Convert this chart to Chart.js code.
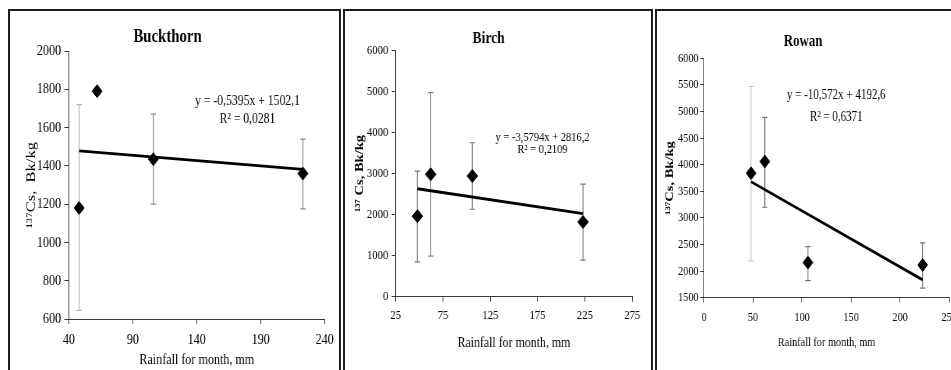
<!DOCTYPE html>
<html>
<head>
<meta charset="utf-8">
<script src="https://cdn.jsdelivr.net/npm/chart.js@4.4.1/dist/chart.umd.min.js"></script>
<style>
html, body { margin: 0; padding: 0; background: #fff; width: 951px; height: 370px; overflow: hidden; }
.panel { position: absolute; top: 9px; height: 400px; border: 2px solid #1e1e1e; background: #fff; overflow: hidden; }
.wrap { position: absolute; left: 0; top: 0; transform-origin: 0 0; }
</style>
</head>
<body>
<div class="panel" style="left:8px;width:329px"><div class="wrap" id="w1"><canvas id="c1"></canvas></div></div>
<div class="panel" style="left:343px;width:306px"><div class="wrap" id="w2"><canvas id="c2"></canvas></div></div>
<div class="panel" style="left:655px;width:340px"><div class="wrap" id="w3"><canvas id="c3"></canvas></div></div>
<script>
// rainfall for month, mm (same four sampling months in all panels)
const rainfall = [48, 62, 106, 223];
const trendX = [48, 223];

// Buckthorn
const buckthornCs = [1180, 1790, 1435, 1360];
const buckthornLow = [645, null, 1200, 1175];
const buckthornHigh = [1720, null, 1670, 1540];
const buckthornTrend = [1478, 1382];
const buckthornXTicks = [40, 90, 140, 190, 240];
const buckthornYTicks = [600, 800, 1000, 1200, 1400, 1600, 1800, 2000];
const buckthornEq = ['y = -0,5395x + 1502,1', 'R² = 0,0281'];

// Birch
const birchCs = [1960, 2980, 2940, 1820];
const birchLow = [850, 990, 2130, 890];
const birchHigh = [3060, 4970, 3750, 2740];
const birchTrend = [2630, 2025];
const birchXTicks = [25, 75, 125, 175, 225, 275];
const birchYTicks = [0, 1000, 2000, 3000, 4000, 5000, 6000];
const birchEq = ['y = -3,5794x + 2816,2', 'R² = 0,2109'];

// Rowan
const rowanCs = [3840, 4060, 2160, 2115];
const rowanLow = [2190, 3200, 1820, 1680];
const rowanHigh = [5470, 4890, 2460, 2530];
const rowanTrend = [3680, 1835];
const rowanXTicks = [0, 50, 100, 150, 200, 250];
const rowanYTicks = [1500, 2000, 2500, 3000, 3500, 4000, 4500, 5000, 5500, 6000];
const rowanEq = ['y = -10,572x + 4192,6', 'R² = 0,6371'];

Chart.defaults.font.family = '"Liberation Serif", "Times New Roman", serif';
Chart.defaults.color = '#000';

// error bars drawn under the markers
const errorBars = {
    id: 'errorBars',
    beforeDatasetsDraw(chart, args, opts) {
        const { ctx, scales: { x, y } } = chart;
        ctx.save();
        ctx.lineWidth = 1.2;
        opts.low.forEach((lo, i) => {
            const hi = opts.high[i];
            if (lo == null || hi == null) return;
            const px = x.getPixelForValue(rainfall[i]);
            const y1 = y.getPixelForValue(lo);
            const y2 = y.getPixelForValue(hi);
            ctx.strokeStyle = opts.colors[i];
            ctx.beginPath();
            ctx.moveTo(px, y1); ctx.lineTo(px, y2);
            ctx.moveTo(px - opts.cap, y1); ctx.lineTo(px + opts.cap, y1);
            ctx.moveTo(px - opts.cap, y2); ctx.lineTo(px + opts.cap, y2);
            ctx.stroke();
        });
        ctx.restore();
    }
};

// trendline equation text
const eqText = {
    id: 'eqText',
    afterDraw(chart, args, opts) {
        const ctx = chart.ctx;
        ctx.save();
        ctx.font = opts.size + 'px "Liberation Serif"';
        ctx.fillStyle = '#000';
        ctx.textAlign = 'center';
        ctx.textBaseline = 'middle';
        opts.lines.forEach((t, i) => ctx.fillText(t, opts.x, opts.y[i]));
        ctx.restore();
    }
};

function makePanel(id, p) {
    const canvas = document.getElementById('c' + id);
    canvas.width = p.W;
    canvas.height = p.H;
    document.getElementById('w' + id).style.transform = 'scaleX(' + p.f + ')';

    const axisColor = '#3a3a3a';
    const fixTicks = arr => scale => { scale.ticks = arr.map(v => ({ value: v })); };

    new Chart(canvas, {
        type: 'scatter',
        data: {
            datasets: [{
                data: rainfall.map((x, i) => ({ x: x, y: p.cs[i] })),
                pointStyle: 'rectRot',
                pointRadius: 6.5,
                backgroundColor: '#000',
                borderColor: '#000',
                borderWidth: 1
            }, {
                type: 'line',
                data: trendX.map((x, i) => ({ x: x, y: p.trend[i] })),
                borderColor: '#000',
                borderWidth: 2.8,
                pointRadius: 0,
                fill: false
            }]
        },
        options: {
            responsive: false,
            animation: false,
            layout: { padding: { left: 0, top: 0, right: p.padRight, bottom: 0 } },
            plugins: {
                legend: { display: false },
                tooltip: { enabled: false },
                title: {
                    display: true,
                    text: p.title,
                    color: '#000',
                    font: { size: p.titleSize, weight: 'bold' },
                    padding: { top: p.titlePadTop, bottom: p.titlePadBottom }
                },
                errorBars: { low: p.low, high: p.high, colors: p.errColors, cap: 3.4 },
                eqText: { lines: p.eq, x: p.eqX, y: p.eqY, size: p.eqSize }
            },
            scales: {
                x: {
                    type: 'linear',
                    min: p.xTicks[0],
                    max: p.xTicks[p.xTicks.length - 1],
                    afterBuildTicks: fixTicks(p.xTicks),
                    afterFit: s => { s.height = p.xHeight; },
                    grid: { drawOnChartArea: false, tickLength: 5, color: axisColor },
                    border: { color: axisColor, width: 1 },
                    ticks: { font: { size: p.tickSize }, padding: p.xTickPad, maxRotation: 0, autoSkip: false, callback: v => String(v) },
                    title: { display: true, text: 'Rainfall for month, mm', font: { size: p.xTitleSize }, padding: { top: 0, bottom: p.xTitlePad } }
                },
                y: {
                    type: 'linear',
                    min: p.yTicks[0],
                    max: p.yTicks[p.yTicks.length - 1],
                    afterBuildTicks: fixTicks(p.yTicks),
                    afterFit: s => { s.width = p.yWidth; },
                    grid: { drawOnChartArea: false, tickLength: p.yTickLen, color: axisColor },
                    border: { color: axisColor, width: 1 },
                    ticks: { font: { size: p.tickSize }, padding: p.yTickPad, autoSkip: false, callback: v => String(v) },
                    title: { display: true, text: p.yTitle, font: { size: p.yTitleSize, weight: p.yTitleWeight }, padding: { top: p.yTitlePad, bottom: 0 } }
                }
            }
        },
        plugins: [errorBars, eqText]
    });
}

document.addEventListener('DOMContentLoaded', function () {
    makePanel(1, {
        W: 422, H: 358, f: 0.78, padRight: 18, yWidth: 75.6, xHeight: 50,
        title: 'Buckthorn', titleSize: 19, titlePadTop: 14.6, titlePadBottom: 2.6,
        cs: buckthornCs, low: buckthornLow, high: buckthornHigh, trend: buckthornTrend,
        errColors: ['#b4b4b4', '#808080', '#8a8a8a', '#8a8a8a'],
        xTicks: buckthornXTicks, yTicks: buckthornYTicks,
        tickSize: 15.5, xTickPad: 7, yTickPad: 4, yTickLen: 6,
        xTitleSize: 15.5, xTitlePad: 0,
        yTitle: '¹³⁷Cs,  Bk/kg', yTitleSize: 16.5, yTitleWeight: 'normal', yTitlePad: 18,
        eq: buckthornEq, eqX: 304.5, eqY: [89.7, 108], eqSize: 15
    });
    makePanel(2, {
        W: 373, H: 359, f: 0.82, padRight: 22.8, yWidth: 61.8, xHeight: 73.3,
        title: 'Birch', titleSize: 16.5, titlePadTop: 18.2, titlePadBottom: 1.4,
        cs: birchCs, low: birchLow, high: birchHigh, trend: birchTrend,
        errColors: ['#7a7a7a', '#8a8a8a', '#7a7a7a', '#7a7a7a'],
        xTicks: birchXTicks, yTicks: birchYTicks,
        tickSize: 13, xTickPad: 6.5, yTickPad: 4, yTickLen: 5,
        xTitleSize: 14.5, xTitlePad: 18.4,
        yTitle: '¹³⁷ Cs, Bk/kg', yTitleSize: 14.5, yTitleWeight: 'bold', yTitlePad: 9.5,
        eq: birchEq, eqX: 240.9, eqY: [126.3, 138.8], eqSize: 12.8
    });
    makePanel(3, {
        W: 434, H: 359, f: 0.76, padRight: 49.6, yWidth: 61.8, xHeight: 72.3,
        title: 'Rowan', titleSize: 17, titlePadTop: 20.5, titlePadBottom: 6.4,
        cs: rowanCs, low: rowanLow, high: rowanHigh, trend: rowanTrend,
        errColors: ['#c4c4c4', '#707070', '#707070', '#707070'],
        xTicks: rowanXTicks, yTicks: rowanYTicks,
        tickSize: 13.5, xTickPad: 6.5, yTickPad: 2, yTickLen: 5,
        xTitleSize: 13.5, xTitlePad: 19,
        yTitle: '¹³⁷Cs, Bk/kg', yTitleSize: 14.5, yTitleWeight: 'bold', yTitlePad: 8.4,
        eq: rowanEq, eqX: 235.9, eqY: [84, 105.7], eqSize: 14.5
    });
});
</script>
</body>
</html>
